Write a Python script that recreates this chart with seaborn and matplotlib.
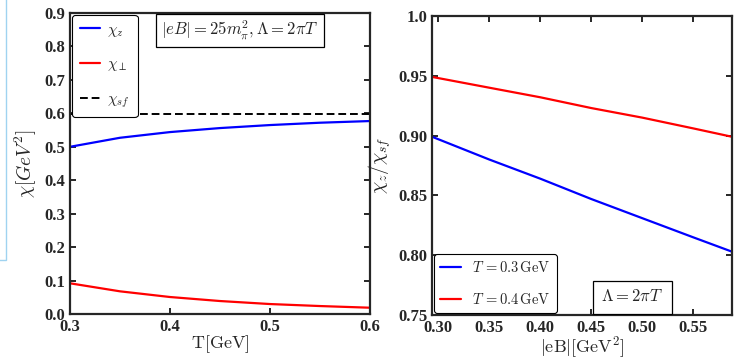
import numpy as np
import pandas as pd
import matplotlib
matplotlib.use('Agg')
import matplotlib.pyplot as plt
import seaborn as sns
from matplotlib.patches import Rectangle

# Left panel: susceptibilities vs temperature
temp = [0.30, 0.35, 0.40, 0.45, 0.50, 0.55, 0.60]
chi_z = [0.500, 0.527, 0.544, 0.556, 0.565, 0.572, 0.577]
chi_perp = [0.092, 0.068, 0.051, 0.039, 0.030, 0.024, 0.019]
chi_sf = [0.598, 0.598, 0.598, 0.598, 0.598, 0.598, 0.598]

# Right panel: ratio vs |eB|
eb = [0.294, 0.35, 0.40, 0.45, 0.50, 0.55, 0.588]
ratio_t03 = [0.899, 0.880, 0.864, 0.847, 0.831, 0.815, 0.803]
ratio_t04 = [0.949, 0.940, 0.932, 0.923, 0.915, 0.906, 0.899]

sns.set_style('ticks')
plt.rcParams.update({
    'font.family': 'Liberation Serif',
    'mathtext.fontset': 'cm',
    'axes.linewidth': 1.6,
    'xtick.direction': 'in',
    'ytick.direction': 'in',
    'xtick.major.width': 1.4,
    'ytick.major.width': 1.4,
    'xtick.major.size': 4,
    'ytick.major.size': 4,
    'xtick.top': True,
    'ytick.right': True,
    'xtick.labelsize': 12,
    'ytick.labelsize': 12,
    'xtick.major.pad': 3.5,
})

fig = plt.figure(figsize=(7.35, 3.61), dpi=100)
ax1 = fig.add_axes([0.0952, 0.130, 0.408, 0.834])
ax2 = fig.add_axes([0.588, 0.127, 0.408, 0.829])

left = pd.DataFrame({'T': temp, 'z': chi_z, 'perp': chi_perp, 'sf': chi_sf})
sns.lineplot(data=left, x='T', y='z', ax=ax1, color='blue', lw=1.6, label=r'$\chi_z$')
sns.lineplot(data=left, x='T', y='perp', ax=ax1, color='red', lw=1.6, label=r'$\chi_\perp$')
sns.lineplot(data=left, x='T', y='sf', ax=ax1, color='black', lw=1.4, ls=(0, (4, 2)),
             label=r'$\chi_{sf}$')
ax1.set_xlim(0.3, 0.6)
ax1.set_ylim(0.0, 0.9)
ax1.set_xticks([0.3, 0.4, 0.5, 0.6])
ax1.set_yticks(np.arange(0, 0.91, 0.1))
ax1.set_xticklabels(['0.3', '0.4', '0.5', '0.6'], fontweight='bold')
ax1.set_yticklabels([f'{v:.1f}' for v in np.arange(0, 0.91, 0.1)], fontweight='bold')
ax1.set_xlabel(r'$\mathrm{T[GeV]}$', fontsize=13, labelpad=-1)
ax1.set_ylabel(r'$\chi[GeV^2]$', fontsize=14, labelpad=4)
leg1 = ax1.legend(loc='upper left', fontsize=11, labelspacing=1.25, handlelength=1.3,
                  handletextpad=0.5, borderaxespad=0.15, borderpad=0.5,
                  frameon=True, fancybox=True, framealpha=1)
leg1.get_frame().set_edgecolor('black')
leg1.get_frame().set_linewidth(0.8)
ax1.text(0.567, 0.943, r'$|eB|=25m_\pi^2,\Lambda=2\pi T$', transform=ax1.transAxes,
         ha='center', va='center', fontsize=12,
         bbox=dict(boxstyle='square,pad=0.3', fc='white', ec='black', lw=0.9))

right = pd.DataFrame({'eB': eb, 't03': ratio_t03, 't04': ratio_t04})
sns.lineplot(data=right, x='eB', y='t03', ax=ax2, color='blue', lw=1.6,
             label=r'$T\,=0.3\,\mathrm{GeV}$')
sns.lineplot(data=right, x='eB', y='t04', ax=ax2, color='red', lw=1.6,
             label=r'$T\,=0.4\,\mathrm{GeV}$')
ax2.set_xlim(0.294, 0.588)
ax2.set_ylim(0.75, 1.0)
xt = [0.30, 0.35, 0.40, 0.45, 0.50, 0.55]
yt = [0.75, 0.80, 0.85, 0.90, 0.95, 1.0]
ax2.set_xticks(xt)
ax2.set_xticklabels([f'{v:.2f}' for v in xt], fontweight='bold')
ax2.set_yticks(yt)
ax2.set_yticklabels(['0.75', '0.80', '0.85', '0.90', '0.95', '1.0'], fontweight='bold')
ax2.set_xlabel(r'$\mathrm{|eB|[GeV^2]}$', fontsize=13, labelpad=-1)
ax2.set_ylabel(r'$\chi_z/\chi_{sf}$', fontsize=14, labelpad=4)
leg2 = ax2.legend(loc='lower left', fontsize=10.5, labelspacing=1.2, handlelength=1.4,
                  borderaxespad=0.15, frameon=True, fancybox=True, framealpha=1)
leg2.get_frame().set_edgecolor('black')
leg2.get_frame().set_linewidth(0.8)
ax2.text(0.667, 0.06, r'$\Lambda=2\pi T$', transform=ax2.transAxes,
         ha='center', va='center', fontsize=12,
         bbox=dict(boxstyle='square,pad=0.5', fc='white', ec='black', lw=0.9))

# faint light-blue frame edge at far left of the screenshot
fig.add_artist(Rectangle((-0.01, 1 - 260 / 361), 0.018, 260 / 361 + 0.02,
                         transform=fig.transFigure, fill=False,
                         ec='#9fd3f0', lw=1.0))

fig.savefig('out.png', dpi=100)
